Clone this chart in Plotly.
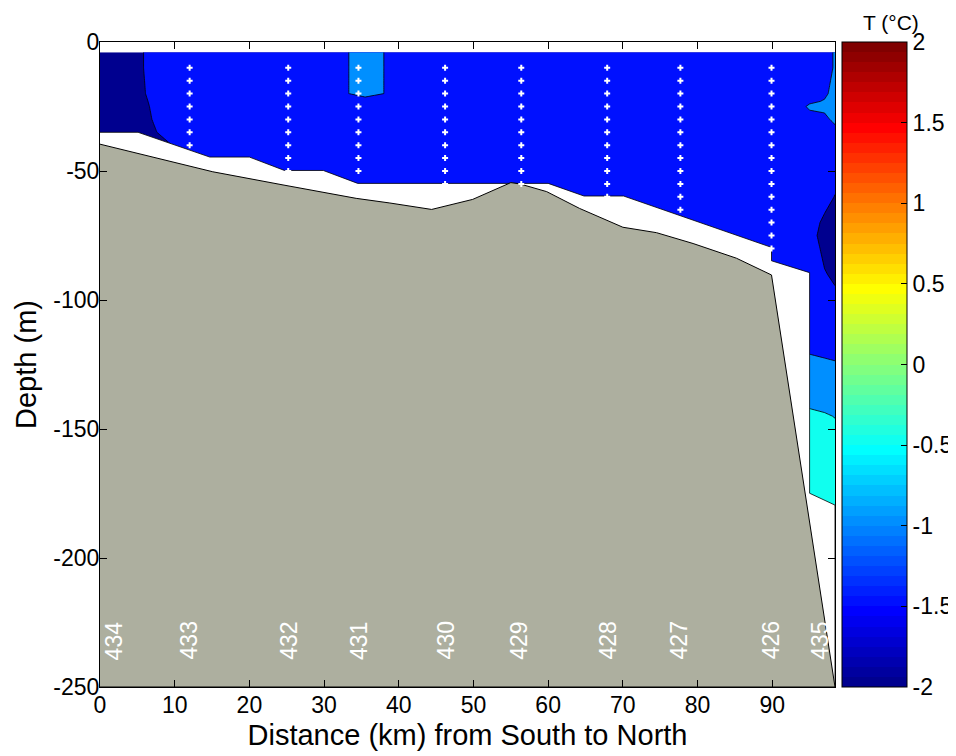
import plotly.graph_objects as go

# ---------------- data ----------------
# temperature grid (deg C): columns = distance (km), rows = depth (m)
dist_km = [0, 5, 10, 20, 32, 35.5, 39, 50, 60, 70, 80, 90, 93, 95, 97, 98.4]
depth_m = [-4, -10, -20, -23, -25, -30, -35, -40, -50, -60, -70, -75, -80, -90,
           -100, -110, -120, -125, -140, -145, -150, -180]
B = -1.25
temp_c = [
    [-1.8, -1.55, B, B, -1.15, -0.75, -1.1, B, B, B, B, B, B, B, -1.2, -0.95],     # -4
    [-1.8, -1.55, B, B, -1.15, -0.75, -1.1, B, B, B, B, B, B, B, -1.2, -0.95],     # -10
    [-1.8, -1.57, B, B, -1.12, -0.8, -1.08, B, B, B, B, B, B, -1.2, -1.08, -0.85], # -20
    [-1.8, -1.6, B, B, B, B, B, B, B, B, B, B, B, -1.08, -0.97, -0.82],            # -23
    [-1.8, -1.62, B, B, B, B, B, B, B, B, B, B, B, -0.92, -0.9, -0.8],             # -25
    [-1.8, -1.66, B, B, B, B, B, B, B, B, B, B, B, -1.2, -1.1, -0.9],              # -30
    [-1.8, -1.72, -1.3, B, B, B, B, B, B, B, B, B, B, B, B, -1.15],                # -35
    [-1.8, -1.75, -1.48, B, B, B, B, B, B, B, B, B, B, B, B, -1.2],                # -40
    [-1.8, -1.75, B, B, B, B, B, B, B, B, B, B, B, B, B, -1.3],                    # -50
    [-1.8, -1.75, B, B, B, B, B, B, B, B, B, B, B, B, -1.3, -1.52],                # -60
    [-1.8, -1.75, B, B, B, B, B, B, B, B, B, B, B, B, -1.61, -1.68],               # -70
    [-1.8, -1.75, B, B, B, B, B, B, B, B, B, B, B, B, -1.75, -1.72],               # -75
    [-1.8, -1.75, B, B, B, B, B, B, B, B, B, B, B, B, -1.61, -1.68],               # -80
    [-1.8, -1.75, B, B, B, B, B, B, B, B, B, B, B, B, -1.47, -1.58],               # -90
    [-1.8, -1.75, B, B, B, B, B, B, B, B, B, B, B, B, -1.3, -1.4],                 # -100
    [-1.8, -1.75, B, B, B, B, B, B, B, B, B, B, B, B, -1.27, -1.3],                # -110
    [-1.8, -1.75, B, B, B, B, B, B, B, B, B, B, -1.02, -1.02, -1.06, -1.1],        # -120
    [-1.8, -1.75, B, B, B, B, B, B, B, B, B, B, -0.92, -0.92, -0.94, -0.96],       # -125
    [-1.8, -1.75, B, B, B, B, B, B, B, B, B, B, -0.55, -0.55, -0.58, -0.62],       # -140
    [-1.8, -1.75, B, B, B, B, B, B, B, B, B, B, -0.43, -0.43, -0.47, -0.51],       # -145
    [-1.8, -1.75, B, B, B, B, B, B, B, B, B, B, -0.38, -0.38, -0.42, -0.45],       # -150
    [-1.8, -1.75, B, B, B, B, B, B, B, B, B, B, -0.3, -0.3, -0.3, -0.3],           # -180
]

# lower limit of the gridded data (below it: no data)
data_bottom_km = [0, 5.1, 14.7, 20.0, 24.7, 29.9, 34.5, 60.0, 64.8, 70.1, 89.9, 89.9, 95.0, 95.0, 98.4]
data_bottom_m = [-35, -35, -44.6, -44.6, -49.8, -49.8, -54.8, -54.8, -59.7, -59.7, -79.6, -84.8, -89.4, -174.9, -179.5]

# bathymetry
bathy_km = [0, 15.1, 24.5, 34.3, 38.8, 44.4, 49.9, 55.0, 56.2, 59.8, 64.2, 70.0, 74.5, 79.4, 85.2, 89.9, 98.4]
bathy_m = [-39.6, -50.3, -55.4, -60.6, -62.4, -64.9, -61.0, -54.5, -55.0, -58.0, -64.5, -71.8, -73.9, -78.1, -83.8, -90.3, -250]

# CTD stations
station_names = ["434", "433", "432", "431", "430", "429", "428", "427", "426", "435"]
station_label_km = [1.85, 11.9, 25.2, 34.6, 46.3, 56.0, 68.0, 77.5, 89.8, 96.3]
station_label_depth = -232
profile_km = [12.0, 25.2, 34.6, 46.2, 56.4, 67.9, 77.7, 89.9]
profile_bottom_m = [-40, -50, -50, -55, -55, -60, -65, -80]
sample_depths = [-10, -15, -20, -25, -30, -35, -40, -45, -50, -55, -60, -65, -70, -75, -80]

x_range = [0, 98.4]
y_range = [-250, 0]
x_ticks = [0, 10, 20, 30, 40, 50, 60, 70, 80, 90]
y_ticks = [0, -50, -100, -150, -200, -250]
y_ticktext = ["0", "-50", "-100", "-150", "-200", "-250"]
cb_ticks = [-2, -1.5, -1, -0.5, 0, 0.5, 1, 1.5, 2]
cb_ticktext = ["-2", "-1.5", "-1", "-0.5", "0", "0.5", "1", "1.5", "2"]

# ---------------- styling ----------------
FONT = "Arial, Liberation Sans, Helvetica, sans-serif"


def jet64(i):
    k = i + 1
    if k <= 8:
        r, g, b = 0, 0, 0.5 + k / 16
    elif k <= 24:
        r, g, b = 0, (k - 8) / 16, 1
    elif k <= 40:
        r, g, b = (k - 24) / 16, 1, 1 - (k - 24) / 16
    elif k <= 56:
        r, g, b = 1, 1 - (k - 40) / 16, 0
    else:
        r, g, b = 1 - (k - 56) / 16, 0, 0
    return "rgb(%d,%d,%d)" % (round(r * 255), round(g * 255), round(b * 255))


jet_scale = []
for i in range(64):
    jet_scale.append([i / 64, jet64(i)])
    jet_scale.append([(i + 1) / 64, jet64(i)])


def jet_of(v, lo=-2, hi=2):
    return jet64(min(63, int((v - lo) / (hi - lo) * 64)))


navy, blue, lblue, cyan = jet_of(-2), jet_of(-1.5), jet_of(-1), jet_of(-0.5)
band_scale = [[0, navy], [1 / 6, navy], [1 / 6, blue], [0.5, blue],
              [0.5, lblue], [5 / 6, lblue], [5 / 6, cyan], [1, cyan]]

fig = go.Figure()

fig.add_trace(go.Contour(
    x=dist_km, y=depth_m, z=temp_c,
    autocontour=False,
    contours=dict(start=-1.5, end=-0.5, size=0.5, coloring="fill", showlines=True),
    colorscale=band_scale, showscale=False,
    line=dict(color="black", width=0.8, smoothing=0),
    hoverinfo="skip",
))

# no-data mask
fig.add_trace(go.Scatter(
    x=data_bottom_km + [x_range[1], x_range[0]],
    y=data_bottom_m + [y_range[0], y_range[0]],
    mode="lines", fill="toself", fillcolor="white",
    line=dict(color="black", width=0.8), hoverinfo="skip",
))

# bathymetry
fig.add_trace(go.Scatter(
    x=bathy_km + [x_range[0]],
    y=bathy_m + [y_range[0]],
    mode="lines", fill="toself", fillcolor="rgb(173,175,159)",
    line=dict(color="black", width=1), hoverinfo="skip",
))

# sample points
px, py = [], []
for xk, bot in zip(profile_km, profile_bottom_m):
    for d in sample_depths:
        if d >= bot:
            px.append(xk)
            py.append(d)
fig.add_trace(go.Scatter(
    x=px, y=py, mode="markers",
    marker=dict(symbol="cross", size=5, color="white", line=dict(width=0)),
    hoverinfo="skip",
))

# colour bar
fig.add_trace(go.Scatter(
    x=[profile_km[0]], y=[-200], mode="markers",
    marker=dict(size=1, opacity=0, color=[0], cmin=-2, cmax=2,
                colorscale=jet_scale, showscale=True,
                colorbar=dict(
                    x=1.0095, xanchor="left", xpad=0, y=0.5, yanchor="middle",
                    ypad=0, len=1, lenmode="fraction", thickness=65,
                    thicknessmode="pixels",
                    outlinewidth=1, outlinecolor="black",
                    tickvals=cb_ticks, ticktext=cb_ticktext,
                    ticks="inside", ticklen=6, tickcolor="black",
                    tickfont=dict(family=FONT, size=23, color="black"),
                )),
    hoverinfo="skip",
))

annotations = []
for name, xk in zip(station_names, station_label_km):
    annotations.append(dict(
        x=xk, y=station_label_depth, xref="x", yref="y", text=name,
        textangle=-90, showarrow=False,
        font=dict(family=FONT, size=23, color="white"),
    ))
annotations.append(dict(
    x=1.076, y=1.031, xref="paper", yref="paper", text="T (°C)",
    showarrow=False, xanchor="center", yanchor="middle", borderpad=0,
    font=dict(family=FONT, size=21, color="black"),
))

axis_common = dict(
    showline=True, linecolor="black", linewidth=1, mirror="ticks",
    ticks="inside", ticklen=7, tickcolor="black", showgrid=False,
    zeroline=False, tickfont=dict(family=FONT, size=23, color="black"),
    automargin=False,
)

# the page shows the figure with an 8 px offset, so the figure is 8 px smaller
fig.update_layout(
    width=948, height=748,
    margin=dict(l=92, r=121, t=34, b=69, autoexpand=False),
    paper_bgcolor="white", plot_bgcolor="white",
    showlegend=False,
    annotations=annotations,
    xaxis=dict(range=x_range, tickvals=x_ticks, ticklabelstandoff=-3,
               title=dict(text="Distance (km) from South to North", standoff=8,
                          font=dict(family=FONT, size=29, color="black")),
               **axis_common),
    yaxis=dict(range=y_range, tickvals=y_ticks, ticktext=y_ticktext,
               ticklabelstandoff=-5,
               title=dict(text="Depth (m)", standoff=8,
                          font=dict(family=FONT, size=29, color="black")),
               **axis_common),
)

fig.write_html("out.html")
